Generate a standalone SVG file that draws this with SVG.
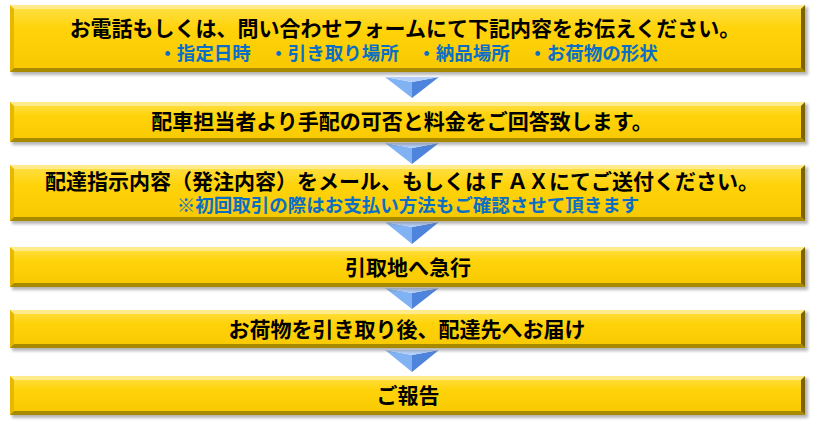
<svg xmlns="http://www.w3.org/2000/svg" width="815" height="425" viewBox="0 0 815 425">
<defs>
<linearGradient id="gold" x1="0" y1="0" x2="0" y2="1">
<stop offset="0" stop-color="#ffe14a"/>
<stop offset="0.35" stop-color="#ffd30a"/>
<stop offset="1" stop-color="#f7c800"/>
</linearGradient>
<filter id="sh" x="-5%" y="-20%" width="110%" height="150%">
<feGaussianBlur stdDeviation="1.5"/>
</filter>
<style>
.shadow{fill:#7a7a7a;opacity:0.55;filter:url(#sh)}
.face{fill:url(#gold)}
.bt{fill:#ffeb8a}
.bl{fill:#e8b800}
.br{fill:#7d6400}
.bb{fill:#a88a00}
.t{font-family:"Noto Sans CJK JP","Noto Sans",sans-serif;font-weight:bold;font-size:21px;fill:#000;text-anchor:middle}
.s{font-family:"Noto Sans CJK JP","Noto Sans",sans-serif;font-weight:bold;font-size:18.5px;fill:#0a6fc4;text-anchor:middle}
.at{fill:#b4d0fa}
.al{fill:#80b2f4}
.ar{fill:#4f84dc}
</style>
</defs>
<rect width="815" height="425" fill="#ffffff"/>
<g id="connectors">
<g><polygon class="al" points="385,77 412,82 412,98"/><polygon class="ar" points="412,82 439,77 412,98"/><polygon class="at" points="385,77 439,77 412,82"/></g>
<g><polygon class="al" points="385,143 412,148 412,164"/><polygon class="ar" points="412,148 439,143 412,164"/><polygon class="at" points="385,143 439,143 412,148"/></g>
<g><polygon class="al" points="385,222 412,227 412,244"/><polygon class="ar" points="412,227 439,222 412,244"/><polygon class="at" points="385,222 439,222 412,227"/></g>
<g><polygon class="al" points="385,288 412,293 412,309"/><polygon class="ar" points="412,293 439,288 412,309"/><polygon class="at" points="385,288 439,288 412,293"/></g>
<g><polygon class="al" points="385,350 412,355 412,372"/><polygon class="ar" points="412,355 439,350 412,372"/><polygon class="at" points="385,350 439,350 412,355"/></g>
</g>
<g id="node1">
<rect class="shadow" x="12" y="7" width="796" height="68"/>
<rect class="face" x="10" y="5" width="795" height="67"/>
<polygon class="bt" points="10,5 805,5 801,9 14,9"/>
<polygon class="bl" points="10,5 14,9 14,68 10,72"/>
<polygon class="br" points="805,5 805,72 801,68 801,9"/>
<polygon class="bb" points="10,72 14,68 801,68 805,72"/>
<text class="t" x="405" y="36">お電話もしくは、問い合わせフォームにて下記内容をお伝えください。</text>
<text class="s" x="408" y="60">・指定日時　・引き取り場所　・納品場所　・お荷物の形状</text>
</g>
<g id="node2">
<rect class="shadow" x="12" y="104" width="796" height="41"/>
<rect class="face" x="10" y="102" width="795" height="40"/>
<polygon class="bt" points="10,102 805,102 801,106 14,106"/>
<polygon class="bl" points="10,102 14,106 14,138 10,142"/>
<polygon class="br" points="805,102 805,142 801,138 801,106"/>
<polygon class="bb" points="10,142 14,138 801,138 805,142"/>
<text class="t" x="402" y="129">配車担当者より手配の可否と料金をご回答致します。</text>
</g>
<g id="node3">
<rect class="shadow" x="12" y="167" width="796" height="57"/>
<rect class="face" x="10" y="165" width="795" height="56"/>
<polygon class="bt" points="10,165 805,165 801,169 14,169"/>
<polygon class="bl" points="10,165 14,169 14,217 10,221"/>
<polygon class="br" points="805,165 805,221 801,217 801,169"/>
<polygon class="bb" points="10,221 14,217 801,217 805,221"/>
<text class="t" x="402" y="189">配達指示内容（発注内容）をメール、もしくはＦＡＸにてご送付ください。</text>
<text class="s" x="408" y="212">※初回取引の際はお支払い方法もご確認させて頂きます</text>
</g>
<g id="node4">
<rect class="shadow" x="12" y="249" width="796" height="41"/>
<rect class="face" x="10" y="247" width="795" height="40"/>
<polygon class="bt" points="10,247 805,247 801,251 14,251"/>
<polygon class="bl" points="10,247 14,251 14,283 10,287"/>
<polygon class="br" points="805,247 805,287 801,283 801,251"/>
<polygon class="bb" points="10,287 14,283 801,283 805,287"/>
<text class="t" x="408" y="275">引取地へ急行</text>
</g>
<g id="node5">
<rect class="shadow" x="12" y="312" width="796" height="39"/>
<rect class="face" x="10" y="310" width="795" height="38"/>
<polygon class="bt" points="10,310 805,310 801,314 14,314"/>
<polygon class="bl" points="10,310 14,314 14,344 10,348"/>
<polygon class="br" points="805,310 805,348 801,344 801,314"/>
<polygon class="bb" points="10,348 14,344 801,344 805,348"/>
<text class="t" x="407" y="337">お荷物を引き取り後、配達先へお届け</text>
</g>
<g id="node6">
<rect class="shadow" x="12" y="378" width="796" height="40"/>
<rect class="face" x="10" y="376" width="795" height="39"/>
<polygon class="bt" points="10,376 805,376 801,380 14,380"/>
<polygon class="bl" points="10,376 14,380 14,411 10,415"/>
<polygon class="br" points="805,376 805,415 801,411 801,380"/>
<polygon class="bb" points="10,415 14,411 801,411 805,415"/>
<text class="t" x="408" y="403">ご報告</text>
</g>
</svg>
